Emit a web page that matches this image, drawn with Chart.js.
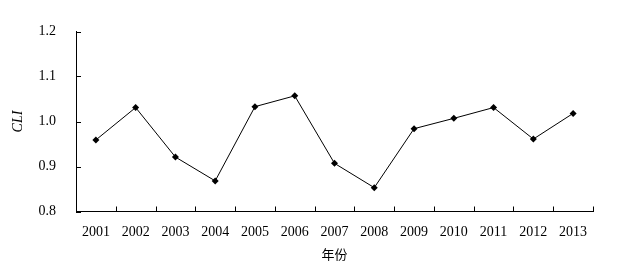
<!DOCTYPE html>
<html>
<head>
<meta charset="utf-8">
<style>
  html, body { margin: 0; padding: 0; background: #fff; }
  #wrap { width: 636px; height: 263px; }
</style>
</head>
<body>
<div id="wrap">
    <canvas id="myChart" width="636" height="263"></canvas>
</div>

<script src="https://cdn.jsdelivr.net/npm/chart.js"></script>

<script>
    // 연도별 CLI 값
    var years = ['2001', '2002', '2003', '2004', '2005', '2006', '2007',
                 '2008', '2009', '2010', '2011', '2012', '2013'];
    var cli = [0.959, 1.031, 0.921, 0.868, 1.033, 1.057, 0.907,
               0.853, 0.984, 1.007, 1.031, 0.961, 1.018];
    var yTicks = [0.8, 0.9, 1.0, 1.1, 1.2];

    // 안쪽으로 향하는 눈금선
    var innerTicks = {
        id: 'innerTicks',
        afterDraw: function (chart) {
            var c = chart.ctx, area = chart.chartArea;
            var xs = chart.scales.x, ys = chart.scales.y;
            c.save();
            c.strokeStyle = '#000';
            c.lineWidth = 1;
            c.beginPath();
            for (var i = 0; i < yTicks.length; i++) {
                var py = Math.round(ys.getPixelForValue(yTicks[i])) + 0.5;
                c.moveTo(area.left, py);
                c.lineTo(area.left + 5, py);
            }
            for (var j = 0; j < years.length; j++) {
                var px;
                if (j < years.length - 1) {
                    px = (xs.getPixelForValue(j) + xs.getPixelForValue(j + 1)) / 2;
                } else {
                    px = area.right;
                }
                px = Math.round(px) + 0.5;
                c.moveTo(px, area.bottom);
                c.lineTo(px, area.bottom - 5);
            }
            c.stroke();
            c.restore();
        }
    };

    var ctx = document.getElementById('myChart');

    new Chart(ctx, {
        type: 'line',
        data: {
            labels: years,
            datasets: [{
                label: 'CLI',
                data: cli,
                borderColor: '#000',
                borderWidth: 1,
                backgroundColor: '#000',
                pointStyle: 'rectRot',
                pointRadius: 3.5,
                pointBorderWidth: 0,
                pointBackgroundColor: '#000',
                tension: 0,
                fill: false
            }]
        },
        options: {
            responsive: false,
            animation: false,
            layout: {
                padding: { left: 0, right: 43, top: 31.5, bottom: 0 }
            },
            scales: {
                x: {
                    offset: true,
                    grid: { display: false },
                    border: { display: true, color: '#000', width: 1 },
                    ticks: {
                        color: '#000',
                        padding: 4,
                        maxRotation: 0,
                        autoSkip: false,
                        font: { family: 'Liberation Serif', size: 14 }
                    },
                    title: {
                        display: true,
                        text: '年份',
                        color: '#000',
                        padding: { top: 0, bottom: 1 },
                        font: { family: 'Noto Sans CJK SC', size: 13 }
                    },
                    afterFit: function (s) { s.height = 51.5; }
                },
                y: {
                    min: 0.8,
                    max: 1.2,
                    grid: { display: false },
                    border: { display: true, color: '#000', width: 1 },
                    ticks: {
                        stepSize: 0.1,
                        color: '#000',
                        padding: 12,
                        font: { family: 'Liberation Serif', size: 14 },
                        callback: function (v) { return Number(v).toFixed(1); }
                    },
                    title: {
                        display: true,
                        text: 'CLI',
                        color: '#000',
                        padding: { top: 10, bottom: 0 },
                        font: { family: 'Liberation Serif', size: 14, style: 'italic' }
                    },
                    afterFit: function (s) { s.width = 76; }
                }
            },
            plugins: {
                legend: { display: false },
                title: { display: false },
                tooltip: { enabled: false }
            }
        },
        plugins: [innerTicks]
    });
</script>
</body>
</html>
